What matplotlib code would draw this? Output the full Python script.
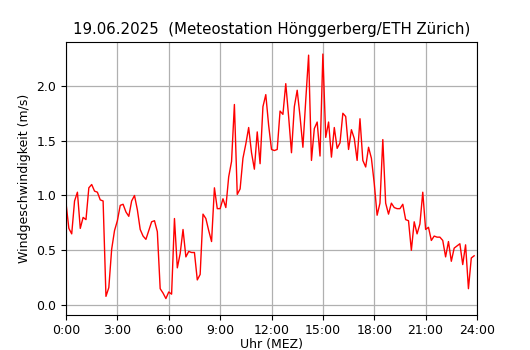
import matplotlib
matplotlib.use("Agg")
import matplotlib.pyplot as plt
import numpy as np

# wind speed, 10-minute values from 0:00 to 23:50 (m/s)
wind = [
    0.93, 0.70, 0.65, 0.95, 1.03, 0.70, 0.80, 0.78, 1.07, 1.10,
    1.04, 1.03, 0.96, 0.95, 0.08, 0.16, 0.51, 0.68, 0.77, 0.91,
    0.92, 0.85, 0.81, 0.95, 1.00, 0.87, 0.69, 0.63, 0.60, 0.68,
    0.76, 0.77, 0.67, 0.15, 0.11, 0.06, 0.12, 0.10, 0.79, 0.34,
    0.47, 0.69, 0.44, 0.49, 0.48, 0.48, 0.23, 0.28, 0.83, 0.79,
    0.68, 0.58, 1.07, 0.88, 0.88, 0.97, 0.89, 1.17, 1.31, 1.83,
    1.01, 1.06, 1.34, 1.47, 1.62, 1.39, 1.24, 1.58, 1.29, 1.81,
    1.92, 1.64, 1.42, 1.41, 1.42, 1.77, 1.74, 2.02, 1.72, 1.39,
    1.81, 1.96, 1.72, 1.44, 1.87, 2.28, 1.32, 1.61, 1.67, 1.36,
    2.29, 1.53, 1.67, 1.35, 1.62, 1.43, 1.48, 1.75, 1.72, 1.42,
    1.60, 1.52, 1.32, 1.70, 1.32, 1.26, 1.44, 1.34, 1.11, 0.82,
    0.93, 1.51, 0.93, 0.83, 0.93, 0.89, 0.88, 0.88, 0.92, 0.78,
    0.77, 0.50, 0.76, 0.65, 0.74, 1.03, 0.69, 0.71, 0.59, 0.63,
    0.62, 0.62, 0.59, 0.44, 0.58, 0.40, 0.52, 0.54, 0.56, 0.37,
    0.55, 0.15, 0.43, 0.45,
]
hours = np.arange(len(wind)) / 6.0

tick_hours = [0, 3, 6, 9, 12, 15, 18, 21, 24]
tick_labels = ["0:00", "3:00", "6:00", "9:00", "12:00", "15:00", "18:00", "21:00", "24:00"]
y_ticks = [0.0, 0.5, 1.0, 1.5, 2.0]

fig = plt.figure(figsize=(5.3, 3.5), dpi=100)
ax = fig.add_axes([66/530, 1 - 315/350, (477-66)/530, (315-42)/350])
ax.plot(hours, wind, color="red", linewidth=1.0)
ax.set_xlim(0, 24)
ax.set_ylim(-0.09, 2.40)
ax.set_xticks(tick_hours)
ax.set_xticklabels(tick_labels)
ax.set_yticks(y_ticks)
ax.grid(True, color="#b0b0b0", linewidth=0.9)
ax.set_axisbelow(True)
ax.set_title("19.06.2025  (Meteostation Hönggerberg/ETH Zürich)", fontsize=10.8)
ax.set_xlabel("Uhr (MEZ)", fontsize=9, labelpad=1)
ax.set_ylabel("Windgeschwindigkeit (m/s)", fontsize=9)
ax.tick_params(labelsize=9)
ax.tick_params(axis="x", pad=3)
fig.savefig("out.png", dpi=100)
